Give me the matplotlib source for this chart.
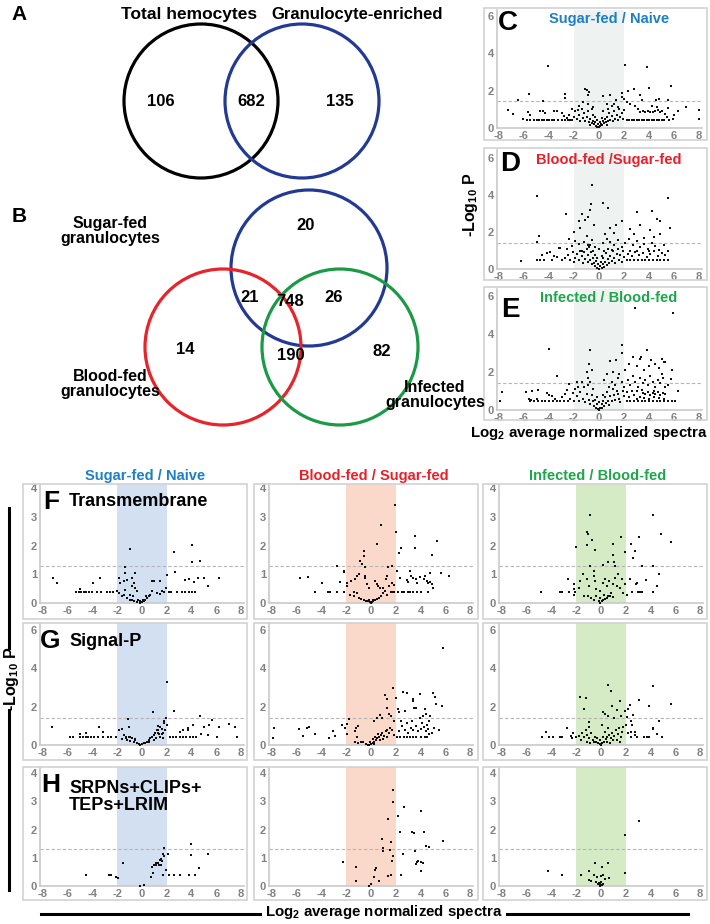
import numpy as np
import matplotlib
matplotlib.use('Agg')
import matplotlib.pyplot as plt
from matplotlib import patches

plt.rcParams['font.family'] = ['Liberation Sans', 'DejaVu Sans']
plt.rcParams['mathtext.default'] = 'regular'
plt.rcParams['axes.unicode_minus'] = False

# ---- Venn data ----
venn_a_labels = ['Total hemocytes', 'Granulocyte-enriched']
venn_a_counts = [106, 682, 135]
venn_b_labels = ['Sugar-fed\ngranulocytes', 'Blood-fed\ngranulocytes', 'Infected\ngranulocytes']
venn_b_counts = [20, 21, 748, 26, 14, 190, 82]   # S, S&B, all, S&I, B, B&I, I

# ---- volcano data (log2 ratio, -log10 P) ----
cde_titles = ['Sugar-fed / Naive', 'Blood-fed /Sugar-fed', 'Infected / Blood-fed']
col_titles = ['Sugar-fed / Naive', 'Blood-fed / Sugar-fed', 'Infected / Blood-fed']
row_titles = ['Transmembrane', 'Signal-P', 'SRPNs+CLIPs+\nTEPs+LRIM']

c_pts = [(-4.1,3.3),(2.05,3.38),(3.87,3.29),(5.76,2.26),(4.03,2.14),(-5.63,1.8),(-6.48,1.51),(-4.48,1.42),
    (-2.75,1.83),(-2.69,1.6),(-1.15,2.08),(-1.0,2.05),(-0.8,1.92),(-0.9,1.75),(1.87,1.9),(2.32,2.0),(2.77,2.08),
    (3.25,1.78),(3.47,1.51),(4.59,1.51),(4.77,1.57),(0.32,1.69),(0.85,1.78),(1.39,1.51),(1.8,1.65),(2.0,1.55),
    (2.2,1.4),(5.5,1.5),(-7.28,0.98),(-6.88,0.77),(8.0,0.98),(8.0,0.48),(6.99,1.12),(6.32,0.89),(5.52,1.07),
    (-6.1,0.5),(-5.7,0.85),(-5.5,0.7),(-4.7,0.9),(-4.5,0.9),(-4.3,0.8),(-3.6,0.9),(-3.4,0.9),(-3.0,0.8),
    (-2.8,0.65),(-2.6,0.55),(5.9,0.5),(6.0,0.7),(5.3,0.75),(5.4,0.6),
    (-5.8,0.45),(-5.5,0.45),(-5.2,0.45),(-5.0,0.45),(-4.8,0.45),(-4.6,0.45),(-4.4,0.45),(-4.2,0.45),(-4.0,0.45),
    (-3.8,0.45),(-3.6,0.45),(-3.3,0.45),(-3.0,0.45),(-2.7,0.45),(-2.5,0.45),(-2.3,0.45),(2.2,0.45),(2.4,0.45),
    (2.6,0.45),(2.8,0.45),(3.0,0.45),(3.2,0.45),(3.4,0.45),(3.6,0.45),(3.8,0.45),(4.0,0.45),(4.2,0.45),(4.4,0.45),
    (4.6,0.45),(4.8,0.45),(5.0,0.45),(5.2,0.45),(5.6,0.45),
    (3.3,0.88),(3.5,0.9),(3.7,0.86),(3.9,0.92),(4.1,0.88),(4.3,0.85),(4.5,0.9),(4.7,0.95),(4.9,0.87),(5.0,0.9),
    (-1.6,1.2),(-1.3,1.4),(-0.9,1.3),(-0.5,1.1),(0.6,1.3),(1.0,1.2),(1.5,1.1),(2.5,1.3),(2.9,1.2),(3.1,1.0),
    (-2.2,1.0),(-1.9,0.9),(4.2,1.2),(4.6,1.1),
    (-2.0,0.6),(-1.8,0.5),(-1.6,0.7),(-1.5,0.4),(-1.3,0.55),(-1.2,0.8),(-1.1,0.35),(-1.0,0.6),(-0.9,0.9),
    (-0.8,0.3),(-0.7,0.5),(-0.6,0.25),(-0.5,0.7),(-0.45,0.4),(-0.4,0.2),(-0.3,0.3),(-0.25,0.12),(-0.15,0.08),
    (-0.1,0.2),(0.0,0.03),(0.1,0.1),(0.15,0.2),(0.25,0.15),(0.3,0.35),(0.4,0.25),(0.5,0.5),(0.55,0.3),(0.65,0.6),
    (0.7,0.4),(0.8,0.8),(0.9,0.45),(1.0,0.65),(1.1,0.35),(1.2,0.9),(1.3,0.5),(1.4,0.7),(1.5,0.45),(1.6,1.0),
    (1.7,0.6),(1.8,0.8),(1.9,0.5),(2.0,0.95),(-2.2,0.45),(-2.4,0.7),(-1.4,1.0),(-1.7,0.95),(-0.6,1.0),(0.3,0.9),
    (0.7,1.0),(1.2,1.3),(-0.35,0.6),(-0.2,0.45),(0.05,0.3),(0.2,0.55),(-0.75,0.15),(0.6,0.15)]

d_pts = [(-0.53,4.54),(-4.93,3.95),(5.52,3.82),(-0.61,3.51),(0.32,3.59),(0.72,3.28),(-2.67,2.95),(3.07,3.1),
    (4.24,3.15),(4.64,2.68),(4.85,2.6),(-1.33,2.95),(-0.88,2.83),(-0.75,3.19),(-1.6,2.6),(-1.15,2.65),(1.87,2.6),
    (3.25,2.38),(5.65,2.2),(-4.83,1.78),(-4.96,1.48),(2.45,2.14),(1.39,2.38),(4.05,2.1),(4.85,1.89),(-2.03,2.0),
    (-1.5,2.2),(-0.4,2.4),(0.9,2.2),(1.2,1.95),(2.8,1.9),(3.6,1.7),(-1.0,1.8),(0.5,1.9),(-2.4,1.6),(4.4,1.75),
    (-1.9,1.5),(-1.6,1.35),(-1.2,1.45),(-0.9,1.3),(-0.6,1.55),(-0.3,1.2),(0.3,1.4),(0.6,1.6),(0.9,1.45),(1.2,1.3),
    (1.5,1.55),(1.8,1.2),(2.1,1.4),(2.4,1.6),(2.7,1.3),(3.0,1.5),(3.3,1.2),(3.6,1.35),(3.9,1.1),(4.2,1.4),
    (4.5,1.25),(4.8,1.05),(5.2,1.3),(-2.6,1.1),(-3.2,1.15),(-2.2,1.25),(0.0,1.1),(1.0,1.05),(2.5,1.0),(-1.4,1.0),
    (-6.21,0.45),(-4.75,0.49),(-4.6,0.76),(-4.2,0.85),(-3.95,0.94),(-3.15,1.12),(-3.4,0.63),(-2.75,0.58),
    (-5.0,0.5),(-4.4,0.5),(-3.8,0.5),(-3.6,0.7),(-3.0,0.5),(-2.5,0.75),(-2.3,0.5),(-2.1,0.9),(-1.9,0.6),
    (2.2,0.5),(2.5,0.5),(2.8,0.5),(3.1,0.5),(3.4,0.5),(3.7,0.5),(4.0,0.5),(4.3,0.5),(4.6,0.5),(4.9,0.5),(5.2,0.5),
    (5.5,0.5),(2.3,0.8),(2.6,0.7),(2.9,0.9),(3.2,0.75),(3.5,0.85),(3.8,0.65),(4.1,0.8),(4.4,0.95),(4.7,0.7),
    (5.0,0.85),(5.3,0.75),(5.5,0.95),(3.0,1.0),(4.0,1.0),
    (-2.0,0.4),(-1.8,0.8),(-1.6,0.5),(-1.4,0.7),(-1.3,0.35),(-1.2,0.9),(-1.1,0.55),(-1.0,1.1),(-0.9,0.4),
    (-0.85,0.75),(-0.8,1.2),(-0.7,0.5),(-0.65,0.9),(-0.6,0.25),(-0.5,0.6),(-0.45,1.0),(-0.4,0.3),(-0.35,0.75),
    (-0.3,0.15),(-0.25,0.45),(-0.2,0.08),(-0.1,0.25),(0.0,0.02),(0.1,0.15),(0.15,0.4),(0.2,0.05),(0.3,0.25),
    (0.35,0.6),(0.4,0.12),(0.5,0.4),(0.55,0.85),(0.6,0.2),(0.7,0.55),(0.75,1.1),(0.8,0.3),(0.9,0.7),(1.0,0.45),
    (1.1,0.95),(1.2,0.6),(1.3,0.35),(1.4,0.8),(1.5,1.1),(1.6,0.5),(1.7,0.75),(1.8,0.4),(1.9,0.95),(2.0,0.65),
    (-1.5,1.0),(-0.2,0.6),(0.2,0.7),(-0.7,1.3),(0.4,1.0)]

e_pts = [(2.85,5.38),(5.92,5.11),(-4.03,3.23),(-0.75,3.16),(1.84,3.43),(1.84,3.02),(3.87,3.16),(2.72,2.79),
    (3.39,2.8),(5.07,2.71),(3.25,2.66),(4.19,2.62),(5.17,2.54),(-0.8,2.43),(1.39,2.61),(0.85,2.57),(-3.36,1.79),
    (-7.76,0.96),(-7.89,0.49),(-5.81,0.95),(-5.33,1.02),(-4.88,1.05),(-5.41,0.53),(6.05,0.49),(6.32,1.02),
    (5.79,1.61),(5.84,2.1),(5.25,2.54),(4.5,2.4),(4.0,2.3),(3.0,2.3),(2.4,2.4),(2.1,2.1),(3.6,2.1),(4.8,2.2),
    (5.0,1.9),(-1.0,2.0),(-0.6,2.1),(-0.9,1.7),(-1.8,1.45),(-2.4,1.35),(-1.4,1.5),(0.6,1.9),(1.1,2.0),(1.6,1.9),
    (0.4,1.6),(1.0,1.5),(1.3,1.3),(1.5,1.7),(1.8,1.45),(2.0,1.2),(2.3,1.6),(2.5,1.3),(2.7,1.8),(2.9,1.5),
    (3.1,1.2),(3.3,1.7),(3.5,1.4),(3.7,1.6),(3.9,1.3),(4.1,1.8),(4.3,1.5),(4.5,1.2),(4.7,1.6),(4.9,1.4),(5.1,1.7),
    (5.3,1.2),(3.0,1.0),(3.4,1.05),(2.2,0.95),(2.6,1.0),(1.4,1.0),(0.8,1.2),(4.4,1.0),(5.5,1.3),
    (3.5,0.9),(3.7,0.85),(3.9,0.95),(4.1,0.8),(4.3,0.9),(4.5,0.85),(4.7,0.95),(4.9,0.8),(5.1,0.9),(5.3,0.85),
    (3.3,0.7),(3.6,0.65),(4.0,0.6),(4.4,0.7),(4.8,0.65),(5.2,0.6),(2.4,0.7),(2.8,0.8),(3.0,0.6),(2.0,0.75),
    (1.6,0.6),(1.2,0.8),
    (-5.5,0.47),(-5.2,0.47),(-4.9,0.47),(-4.6,0.47),(-4.3,0.47),(-4.0,0.47),(-3.7,0.47),(-3.4,0.47),(-3.1,0.47),
    (-2.8,0.47),(-2.5,0.47),(2.2,0.47),(2.5,0.47),(2.8,0.47),(3.1,0.47),(3.4,0.47),(3.7,0.47),(4.0,0.47),
    (4.3,0.47),(4.6,0.47),(4.9,0.47),(5.2,0.47),(5.5,0.47),(5.8,0.47),
    (-4.2,0.9),(-4.0,0.8),(-3.8,0.75),(-3.5,0.6),(-3.0,0.7),(-2.7,0.85),(-2.3,0.6),(-2.1,0.9),(-2.6,1.05),
    (-1.9,1.1),(-5.6,0.6),(-5.0,0.6),
    (-2.0,0.5),(-1.8,0.75),(-1.6,0.45),(-1.5,0.95),(-1.3,0.6),(-1.2,1.2),(-1.1,0.4),(-1.0,0.85),(-0.9,1.3),
    (-0.8,0.55),(-0.75,1.5),(-0.7,0.3),(-0.6,0.8),(-0.5,0.45),(-0.45,1.1),(-0.4,0.2),(-0.3,0.55),(-0.25,0.1),
    (-0.15,0.3),(-0.1,0.05),(0.0,0.02),(0.1,0.12),(0.2,0.3),(0.25,0.08),(0.35,0.45),(0.4,0.2),(0.5,0.7),
    (0.55,0.35),(0.65,0.95),(0.7,0.5),(0.8,0.25),(0.9,0.75),(1.0,0.45),(1.1,1.1),(1.3,0.55),(1.5,0.85),
    (1.7,0.4),(1.9,1.0),(0.3,0.8),(-0.2,0.7),(0.0,0.4),(-1.7,1.2)]

f1_pts = [(-1.0,1.88),(2.61,1.77),(4.02,2.03),(4.02,1.41),(4.72,1.46),(-1.35,1.25),(-1.35,1.04),(-0.54,1.04),
    (2.02,0.99),(2.7,1.08),(-7.22,0.87),(-6.87,0.7),(-3.37,0.87),(-3.99,0.7),(-4.99,0.5),
    (-5.31,0.38),(-5.12,0.38),(-4.93,0.38),(-4.72,0.38),(-4.5,0.38),(-4.28,0.38),(-4.02,0.38),(-3.64,0.38),
    (-3.32,0.38),(-2.83,0.38),(-2.56,0.38),(-2.35,0.38),(2.16,0.38),(2.37,0.38),(2.83,0.38),(3.23,0.38),
    (3.5,0.38),(3.77,0.38),(4.04,0.38),(4.31,0.38),
    (3.5,0.81),(3.77,0.83),(4.18,0.72),(4.5,0.87),(4.99,0.87),(5.31,0.58),(6.25,0.87),
    (-1.89,0.87),(-1.81,0.7),(-1.48,0.75),(-1.21,0.81),(-0.81,0.87),(-0.81,0.6),(-0.62,0.7),(-0.54,0.52),
    (-0.4,0.41),(0.81,0.78),(1.0,0.75),(1.48,0.78),(0.81,0.41),(1.21,0.35),(1.48,0.32),(1.62,0.41),(1.75,0.37),
    (1.97,0.51),(-2.02,0.41),(-1.83,0.35),(-1.62,0.23),(-1.43,0.29),(-1.21,0.17),(-1.0,0.12),(-0.81,0.09),
    (-0.62,0.06),(-0.4,0.02),(-0.19,0.0),(0.0,0.02),(0.13,0.06),(0.27,0.12),(0.4,0.17),(0.54,0.23),(0.67,0.29),
    (-1.35,0.46),(-0.94,0.29),(-0.73,0.23),(-0.35,0.12),(-0.13,0.06),(0.08,0.09),(0.35,0.23)]

f2_pts = [(1.9,3.41),(0.79,2.71),(2.03,2.47),(0.52,2.06),(3.56,2.32),(3.56,1.91),(2.43,1.91),(2.27,1.74),
    (5.31,2.14),(4.91,1.67),(-0.6,1.8),(-0.55,1.65),(-0.87,1.47),(-0.74,1.35),(-0.47,1.24),(-2.76,1.29),
    (1.68,1.29),(1.41,1.24),(2.08,1.12),(-2.17,1.12),(-2.22,1.08),
    (-5.71,0.86),(-5.09,0.91),(-3.97,0.71),(-2.54,0.74),(-1.9,0.71),(-1.9,0.59),(-1.6,0.76),(-1.28,0.82),
    (-1.14,0.94),(-0.93,1.0),(-0.47,0.94),(-0.47,0.88),(-0.34,0.65),(-0.2,0.53),(0.34,0.76),(0.47,0.65),
    (0.6,0.59),(0.74,0.53),(1.01,0.53),(1.2,0.85),(1.28,0.94),(1.49,0.59),(1.68,0.71),(1.87,0.61),
    (-4.5,0.4),(-3.5,0.4),(-3.29,0.4),(-2.76,0.4),(-2.17,0.4),(-1.41,0.4),(1.6,0.4),(1.76,0.4),(1.87,0.4),
    (2.22,0.4),(2.49,0.4),(2.67,0.4),(2.97,0.4),(3.16,0.4),(3.43,0.4),(3.75,0.4),(4.02,0.4),(4.64,0.4),
    (2.89,0.79),(3.02,0.74),(3.21,0.94),(3.43,0.88),(3.62,0.85),(3.7,0.71),(3.97,0.92),(4.29,0.85),(4.5,0.76),
    (4.64,0.71),(4.78,0.74),(4.91,0.65),(4.99,0.53),(4.78,1.06),(4.37,0.94),(5.66,1.04),(6.33,0.94),(3.16,1.12),
    (2.35,0.88),
    (-1.68,0.29),(-1.41,0.24),(-1.14,0.35),(-1.0,0.18),(-0.82,0.14),(-0.6,0.12),(-0.39,0.08),(-0.26,0.06),
    (-0.12,0.02),(0.0,0.0),(0.09,0.02),(0.2,0.06),(0.34,0.09),(0.47,0.14),(0.63,0.18),(0.79,0.26),(0.95,0.35),
    (1.14,0.41),(1.28,0.29),(0.15,0.12),(-0.2,0.12)]

f3_pts = [(-0.87,3.06),(4.18,3.06),(-1.14,2.47),(-1.08,2.41),(-0.74,2.18),(-1.14,2.02),(-2.06,1.94),
    (-0.52,1.85),(1.63,2.29),(3.1,2.29),(4.85,2.41),(5.63,2.12),(0.93,2.05),(2.41,2.06),(2.76,1.82),(1.92,1.76),
    (0.95,1.67),(2.57,1.55),(0.6,1.44),(1.06,1.41),(1.14,1.29),(0.2,1.33),(-0.87,1.29),(3.29,1.27),(4.23,1.29),
    (4.72,1.0),(3.64,0.79),(2.89,0.71),(2.81,0.67),(2.35,0.82),(4.56,0.59),(4.18,0.38),
    (-4.82,0.38),(-3.29,0.38),(-3.16,0.38),(-2.62,0.38),(-2.14,0.38),(2.49,0.38),(3.02,0.38),(3.16,0.38),
    (3.29,0.38),
    (-2.7,0.82),(-2.22,0.65),(-2.17,0.47),(-2.17,0.29),(-1.81,0.53),(-1.68,0.76),(-1.46,1.0),(-1.14,0.85),
    (-1.0,0.59),(-0.6,1.12),(-0.55,0.94),(-0.47,0.76),(-0.39,0.47),(-0.07,0.41),(0.15,0.71),(0.34,0.82),
    (0.52,0.59),(0.68,0.76),(0.79,0.35),(1.01,0.65),(1.14,0.88),(1.28,0.59),(1.41,1.0),(1.55,0.53),(1.68,0.82),
    (1.76,0.35),(1.95,0.65),(2.08,0.29),
    (-1.41,0.24),(-1.08,0.26),(-0.82,0.18),(-0.6,0.12),(-0.39,0.26),(-0.2,0.06),(-0.07,0.0),(0.07,0.06),
    (0.2,0.09),(0.34,0.14),(0.47,0.18),(0.6,0.24),(0.74,0.26),(0.95,0.2),(-0.12,0.18),(0.26,0.29)]

g1_pts = [(1.99,3.3),(2.6,1.79),(0.85,1.72),(4.69,1.5),(1.8,1.27),(1.91,1.39),(-1.11,1.34),(1.8,1.13),
    (1.99,1.04),(-7.28,0.92),(-3.44,0.92),(-3.18,0.7),(-1.06,0.96),(-1.85,0.78),(-1.59,0.82),(1.59,0.82),
    (1.46,0.96),(1.32,0.78),(1.72,0.64),(1.38,0.57),
    (3.31,0.78),(3.71,0.87),(4.11,1.04),(5.03,0.92),(5.43,1.04),(5.62,1.3),(6.23,0.92),(7.02,1.08),(7.55,0.92),
    (7.68,0.43),(5.3,0.52),(4.77,0.57),(3.71,0.78),(3.05,0.7),
    (-5.83,0.43),(-5.56,0.43),(-5.03,0.43),(-4.77,0.43),(-4.56,0.43),(-4.37,0.43),(-4.16,0.43),(-3.84,0.43),
    (-3.58,0.43),(-3.18,0.43),(-2.78,0.43),(-2.52,0.43),(-2.12,0.43),(2.25,0.43),(2.52,0.43),(2.78,0.43),
    (3.05,0.43),(3.31,0.43),(3.58,0.43),(3.84,0.43),(4.11,0.43),(4.37,0.43),(6.09,0.43),(-5.03,0.57),(-4.5,0.64),
    (-1.46,0.52),(-1.32,0.35),(-1.19,0.26),(-1.06,0.43),(-0.93,0.23),(-0.79,0.35),(-0.66,0.17),(-0.53,0.26),
    (-0.4,0.12),(-0.26,0.05),(-0.13,0.0),(0.0,0.03),(0.13,0.09),(0.26,0.12),(0.4,0.17),(0.53,0.26),(0.66,0.35),
    (0.79,0.43),(0.93,0.52),(1.06,0.64),(1.19,0.78),(1.32,0.61),(1.46,0.43),(1.59,0.57),(1.72,0.35),(0.93,0.26),
    (0.53,0.17),(-1.27,0.43),(-0.93,0.43),(-1.59,0.3),(-0.58,0.3),(1.11,0.35),(1.85,0.78),(1.27,0.99)]

g2_pts = [(5.85,5.08),(1.76,2.98),(2.62,2.77),(2.89,2.73),(3.99,2.68),(4.99,2.73),(5.2,2.52),(1.1,2.59),
    (2.05,2.47),(1.31,2.38),(3.36,2.42),(3.41,2.29),(3.46,1.94),(3.62,1.94),(5.25,2.12),(5.72,2.03),(4.33,1.89),
    (1.31,1.94),(2.15,1.89),(2.23,1.71),(2.76,1.76),(0.73,1.59),(0.92,1.41),(0.52,1.41),(0.26,1.23),(1.44,1.64),
    (1.63,1.5),(1.84,1.23),(4.2,1.53),(4.46,1.64),(4.8,1.5),(3.94,1.41),(4.72,1.23),(2.44,1.23),(2.89,1.15),
    (3.28,1.23),
    (-7.8,0.88),(-7.93,0.35),(-5.83,0.83),(-5.46,0.48),(-5.2,0.88),(-4.99,0.93),(-4.51,0.58),(-3.1,0.71),
    (-3.36,0.39),(-2.89,0.48),(-2.36,1.06),(-2.1,0.88),(-1.94,0.58),(-1.76,1.38),(-1.97,1.11),(-1.18,0.88),
    (-1.05,1.0),(-1.26,0.71),(-1.1,0.44),
    (-1.31,0.16),(-1.05,0.12),(-0.84,0.18),(-0.66,0.18),(-0.39,0.05),(-0.26,0.0),(-0.13,0.0),(0.0,0.05),
    (0.13,0.12),(0.26,0.18),(0.39,0.26),(0.52,0.35),(0.66,0.44),(0.79,0.53),(0.92,0.62),(1.05,0.48),(1.18,0.71),
    (1.31,0.79),(1.44,0.62),(1.57,0.88),(1.71,0.79),(1.84,0.53),(0.13,0.3),(0.31,0.44),(0.58,0.58),(0.73,0.26),
    (0.99,0.3),(1.31,0.44),(-0.05,0.18),(0.21,0.05),
    (2.1,0.44),(2.36,0.44),(2.68,0.44),(2.89,0.44),(3.15,0.44),(3.41,0.44),(3.67,0.44),(4.07,0.44),(4.33,0.44),
    (4.54,0.44),(2.23,0.71),(2.49,0.97),(2.76,0.79),(3.02,0.65),(3.2,0.88),(3.41,0.79),(3.67,0.97),(3.81,0.71),
    (4.07,0.83),(4.25,0.93),(4.41,0.71),(4.59,0.83),(4.72,0.58),(4.93,0.65),(5.12,0.88),(5.46,0.79),(4.15,1.15),
    (4.54,1.06)]

g3_pts = [(4.17,3.06),(0.6,3.15),(0.78,2.8),(-1.7,2.53),(-1.18,2.45),(-1.39,1.87),(1.57,2.27),(3.11,2.33),
    (3.9,2.06),(5.62,2.15),(2.31,2.1),(2.18,1.89),(0.86,2.05),(0.2,1.71),(0.33,1.63),(0.6,1.52),(1.26,1.84),
    (1.97,1.75),(1.6,1.52),(2.58,1.57),(2.1,1.45),(-0.94,1.22),(1.07,1.4),(4.7,1.26),(4.17,0.91),(4.17,0.82),
    (2.45,1.26),(2.53,1.05),(2.05,1.05),
    (-4.43,0.66),(-4.75,0.4),(-4.23,0.4),(-3.9,0.4),(-3.32,0.4),(-3.16,0.4),(-2.71,0.87),(-2.45,0.47),
    (-2.31,0.35),(-2.24,0.65),(-2.05,0.44),
    (4.56,0.58),(4.96,0.4),(3.5,0.4),(3.72,0.4),(3.9,0.44),(2.71,0.7),(2.77,0.52),(2.39,0.7),(2.18,0.61),
    (2.45,0.44),(2.9,0.4),
    (-1.79,0.47),(-1.57,0.61),(-1.65,0.26),(-1.39,0.44),(-1.2,0.79),(-1.12,0.52),(-0.99,0.96),(-0.94,0.35),
    (-0.78,0.65),(-0.67,0.26),(-0.52,0.44),(-0.41,0.17),(-0.25,0.12),(-0.12,0.05),(0.0,0.0),(0.12,0.09),
    (0.25,0.17),(0.38,0.3),(0.52,0.44),(0.65,0.52),(0.81,0.35),(0.91,0.65),(1.07,0.47),(1.18,0.79),(1.34,0.58),
    (1.44,0.87),(1.6,0.44),(1.71,0.7),(1.79,0.96),(0.2,0.44),(0.33,0.7),(0.54,0.87),(0.46,0.17),(-0.33,0.35),
    (-0.07,0.26),(-0.6,0.17),(-1.12,0.17),(-0.86,0.12),(0.73,0.12),(0.99,0.26),(1.26,0.26),(1.52,0.17),
    (0.12,1.05)]

h1_pts = [(-4.52,0.4),(-2.64,0.4),(-2.5,0.4),(-2.1,0.32),(-1.97,0.28),(-1.57,0.82),(-0.17,0.0),(0.17,0.05),
    (0.76,0.32),(0.9,0.47),(0.84,0.68),(0.95,0.76),(1.17,0.8),(1.38,0.74),(1.49,0.91),(1.57,0.97),(1.65,0.89),
    (1.7,1.15),(1.78,1.06),(1.78,1.33),(1.3,0.83),(1.12,0.74),(1.97,0.58),(2.1,1.12),(1.7,0.4),(2.19,0.4),
    (2.56,0.4),(3.04,0.4),(3.79,0.4),(4.25,0.4),(4.6,0.62),(3.93,1.48),(3.99,1.09),(5.35,1.12),(1.57,0.74)]

h2_pts = [(1.81,3.41),(1.79,2.99),(2.67,2.78),(1.41,2.37),(2.19,2.48),(4.0,2.67),(2.35,1.92),(3.33,1.92),
    (3.47,1.89),(4.32,1.9),(5.81,1.59),(0.88,1.65),(1.6,1.57),(0.99,1.36),(0.99,1.25),(1.55,1.29),(1.79,1.06),
    (1.73,0.89),(2.61,1.12),(3.55,1.23),(4.48,1.41),(4.67,1.37),(3.68,0.85),(3.81,0.88),(4.08,0.85),(4.21,0.83),
    (3.6,0.77),(4.0,0.53),(2.45,0.4),(1.6,0.4),(1.41,0.34),(0.61,0.18),(0.35,0.58),(0.4,0.62),(0.21,0.32),
    (0.0,0.06),(-0.13,0.0),(-1.25,0.68),(-1.25,0.18),(-2.27,0.85)]

h3_pts = [(3.1,2.31),(1.9,1.8),(1.9,0.47),(-4.31,0.52),(-3.16,0.4),(-1.6,0.4),(-1.01,0.52),(-0.47,0.8),
    (0.12,0.68),(0.55,0.83),(-0.93,0.2),(-0.82,0.18),(-0.55,0.38),(-0.34,0.32),(0.01,0.34),(0.2,0.4),
    (0.34,0.26),(0.66,0.3),(-0.39,0.14),(-0.2,0.11),(-0.07,0.06),(0.07,0.02),(-0.12,0.0),(0.15,0.08),
    (0.0,0.14),(-0.28,0.06)]

# ---- colours ----
BLUE_T, RED_T, GREEN_T = '#1e7fc4', '#e8202a', '#1ea64c'
band_cols = ['#d3e0f1', '#fbd9ca', '#d5ebc6']
cde_band = '#eef2f0'
title_cols = [BLUE_T, RED_T, GREEN_T]

W, H = 710, 924
fig = plt.figure(figsize=(7.1, 9.24), dpi=100)

def ftext(x, y, s, **kw):
    kw.setdefault('ha', 'center')
    kw.setdefault('va', 'center')
    kw.setdefault('weight', 'bold')
    fig.text(x / W, 1 - y / H, s, **kw)

def box(l, t, r, b):
    fig.patches.append(patches.Rectangle((l / W, 1 - b / H), (r - l) / W, (b - t) / H,
                       transform=fig.transFigure, fill=False, ec='#d2d2d2', lw=1.2))

def add_ax(l, t, r, x_lo, x_hi, y0, yval, ypx):
    ax = fig.add_axes([l / W, 1 - y0 / H, (r - l) / W, (y0 - t) / H])
    sx = (x_hi - x_lo) / 16.0
    ax.set_xlim(-8 + (l - x_lo) / sx, 8 + (r - x_hi) / sx)
    sy = (y0 - ypx) / float(yval)
    ax.set_ylim(0, (y0 - t) / sy)
    return ax

def volcano(ax, pts, band, thr, yticks):
    ax.set_facecolor('none')
    ax.axvspan(-2, 2, color=band, lw=0, zorder=0)
    ax.axhline(thr, color='#b5b5b5', lw=0.8, ls=(0, (3, 2)), zorder=1)
    xy = np.array(pts)
    ax.scatter(xy[:, 0], xy[:, 1], s=4, marker='s', c='#111111', lw=0, zorder=3, clip_on=False)
    for s in ['top', 'right']:
        ax.spines[s].set_visible(False)
    for s in ['left', 'bottom']:
        ax.spines[s].set_color('#c9c9c9')
        ax.spines[s].set_linewidth(1.2)
    ax.set_xticks(range(-8, 9, 2))
    ax.set_yticks(yticks)
    ax.tick_params(length=0, labelsize=8, labelcolor='#828282', pad=2)
    for lab in ax.get_xticklabels() + ax.get_yticklabels():
        lab.set_fontweight('bold')

# ---- overlay for Venn diagrams and frame lines ----
ov = fig.add_axes([0, 0, 1, 1], zorder=-1)
ov.set_xlim(0, W)
ov.set_ylim(H, 0)
ov.axis('off')

VBLUE, VRED, VGREEN = '#233a94', '#e8232a', '#1a9a45'
for (cx, cy), col in zip([(201, 101), (302, 101)], ['black', VBLUE]):
    ov.add_patch(patches.Circle((cx, cy), 77, fill=False, ec=col, lw=2.3))
for (cx, cy), col in zip([(309, 268), (223, 347), (340, 347)], [VBLUE, VRED, VGREEN]):
    ov.add_patch(patches.Circle((cx, cy), 78, fill=False, ec=col, lw=2.3))

ftext(19, 15, 'A', size=15)
ftext(189, 15, venn_a_labels[0], size=12.5)
ftext(357, 15, venn_a_labels[1], size=12)
for (x, y), n in zip([(161, 101), (251, 101), (340, 101)], venn_a_counts):
    ftext(x, y, str(n), size=12)

ftext(19, 216, 'B', size=15)
ftext(110, 231, venn_b_labels[0], size=11.5, linespacing=1.05)
ftext(110, 384, venn_b_labels[1], size=11.5, linespacing=1.05)
ftext(435, 395, venn_b_labels[2], size=11.5, linespacing=1.05)
for (x, y), n in zip([(306, 226), (250, 297), (290, 302), (334, 297), (185, 349), (291, 355), (382, 352)],
                     venn_b_counts):
    ftext(x, y, str(n), size=12)

# ---- C, D, E ----
cde_pts = [c_pts, d_pts, e_pts]
cde_geo = [(10, 128, 16), (150, 269, 158), (289, 410, 296)]   # top, y0, y(6)
cde_box = [(484, 8, 707, 140), (484, 148, 707, 280), (484, 287, 707, 420)]
cde_lbl = [(508, 23), (510, 164), (510, 310)]
cde_ttl_y = [19, 160, 298]
for i in range(3):
    t, y0, y6 = cde_geo[i]
    box(*cde_box[i])
    ax = add_ax(497, t, 702, 499, 699, y0, 6, y6)
    volcano(ax, cde_pts[i], cde_band, 1.42, [0, 2, 4, 6])
    ftext(cde_lbl[i][0], cde_lbl[i][1], 'CDE'[i], size=20)
    ftext(609, cde_ttl_y[i], cde_titles[i], size=10.5, color=title_cols[i])
ftext(470, 205, '-Log$_{10}$ P', size=11.5, rotation=90)
ftext(589, 433, 'Log$_2$ average normalized spectra', size=10.8)

# ---- F, G, H grid ----
grid_pts = [[f1_pts, f2_pts, f3_pts], [g1_pts, g2_pts, g3_pts], [h1_pts, h2_pts, h3_pts]]
col_geo = [(23, 247, 40, 244, 43, 241), (254, 478, 269, 473, 272, 470), (483, 707, 499, 703, 502, 700)]
row_geo = [(484, 619, 603, 4, 488), (623, 760, 745, 6, 630), (767, 900, 886, 4, 773)]
row_thr = [1.27, 1.42, 1.3]
row_ticks = [[0, 1, 2, 3, 4], [0, 2, 4, 6], [0, 1, 2, 3, 4]]
for r in range(3):
    bt, bb, y0, yv, ypx = row_geo[r]
    for c in range(3):
        bl, br, al, ar, xlo, xhi = col_geo[c]
        box(bl, bt, br, bb)
        ax = add_ax(al, bt, ar, xlo, xhi, y0, yv, ypx)
        volcano(ax, grid_pts[r][c], band_cols[c], row_thr[r], row_ticks[r])

for c, x in enumerate([145, 374, 598]):
    ftext(x, 476, col_titles[c], size=10.5, color=title_cols[c])

ftext(51, 502, 'F', size=19)
ftext(69, 502, row_titles[0], size=13, ha='left')
ftext(50, 641, 'G', size=19)
ftext(69, 642, row_titles[1], size=13, ha='left')
ftext(51, 785, 'H', size=19)
ftext(69, 797, row_titles[2], size=13, ha='left', linespacing=1.05)

# frame lines and shared axis labels of the grid
ov.plot([9, 9], [508, 648], color='black', lw=2.2)
ov.plot([9, 9], [710, 890], color='black', lw=2.2)
ov.plot([41, 260], [914, 914], color='black', lw=2.2)
ov.plot([507, 688], [914, 914], color='black', lw=2.2)
ftext(12, 679, '-Log$_{10}$ P', size=11.5, rotation=90)
ftext(384, 912, 'Log$_2$ average normalized spectra', size=10.8)

fig.savefig('out.png', dpi=100)
